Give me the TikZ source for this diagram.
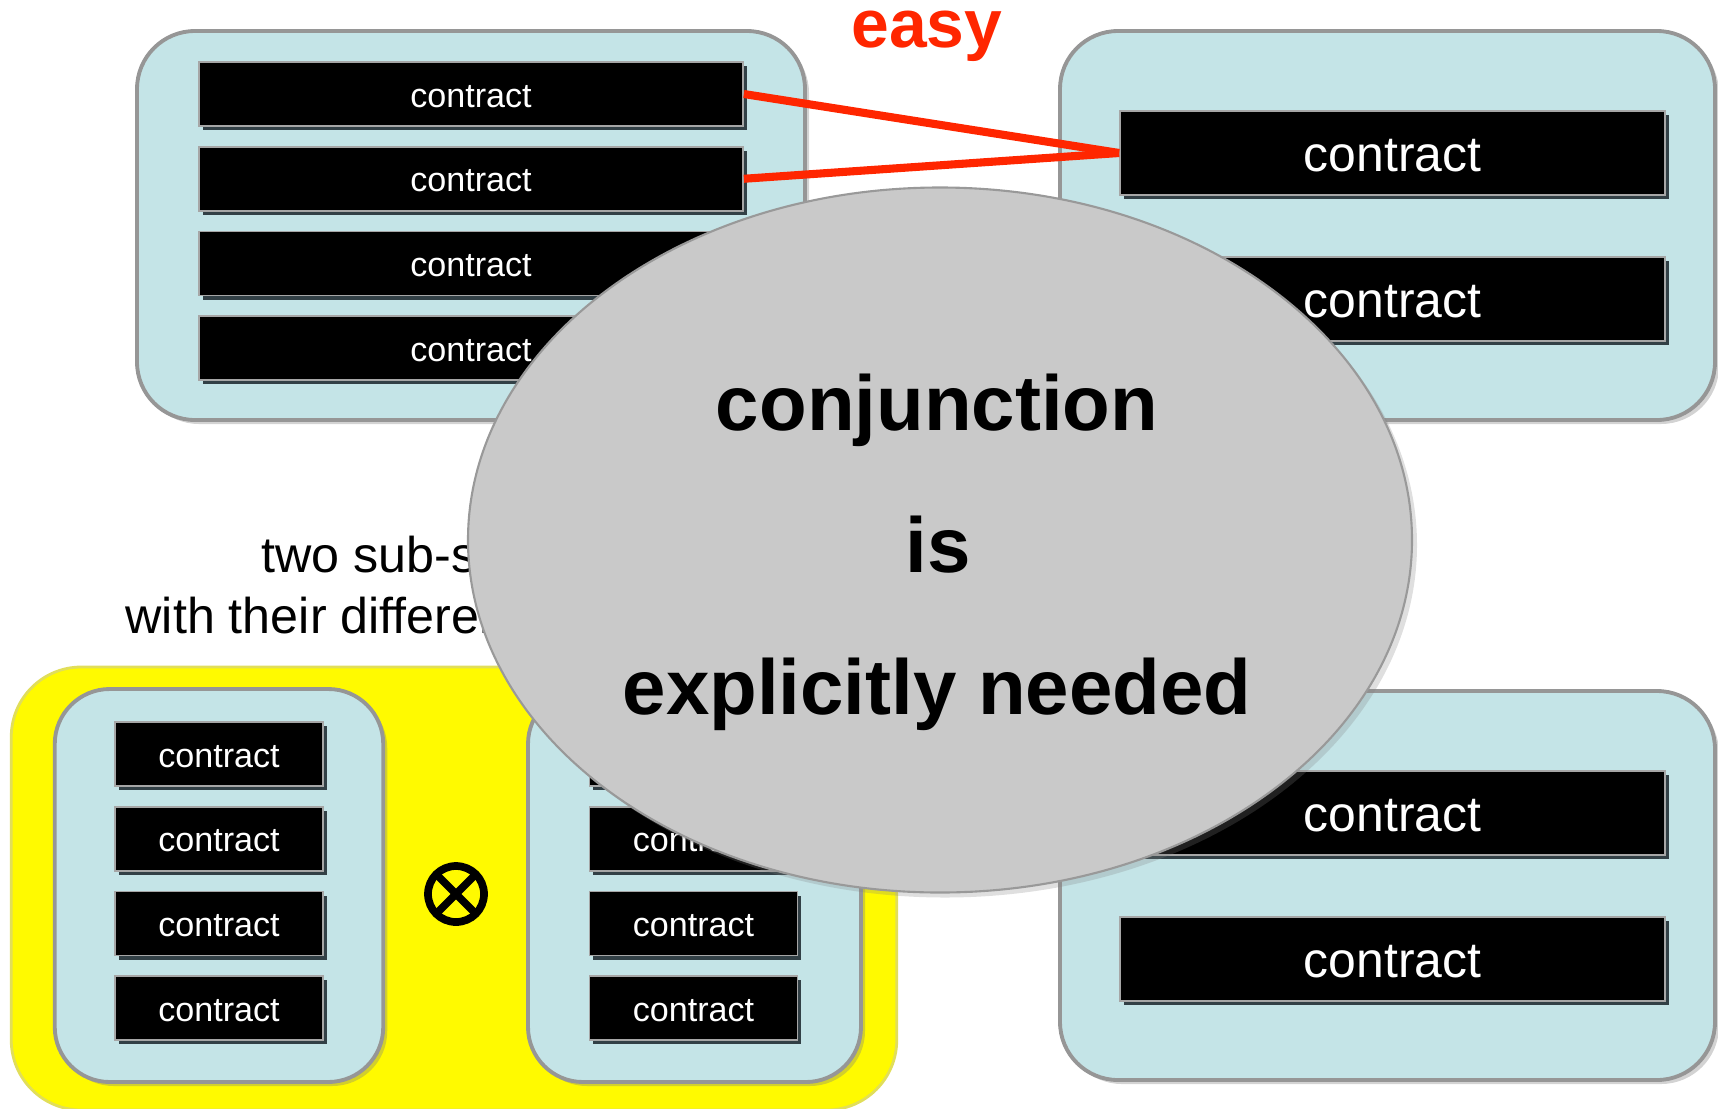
\documentclass[tikz,border=0pt]{standalone}
\usepackage{fontspec}
\setmainfont{Liberation Sans}
\usepackage{tikz}
\usetikzlibrary{positioning}
\usetikzlibrary{shapes.geometric,shadows}
\usepackage{xcolor}
\definecolor{panelblue}{RGB}{196,228,231}
\definecolor{paneledge}{RGB}{150,150,150}
\definecolor{boxshade}{RGB}{50,64,70}
\definecolor{easyred}{RGB}{255,38,0}
\definecolor{bubblegray}{RGB}{201,201,201}
\definecolor{sunyellow}{RGB}{255,250,0}

\begin{document}
\begin{tikzpicture}[
		panel/.style={draw=paneledge, line width=1.1pt, fill=panelblue, rounded corners=0.58cm,
			drop shadow={shadow xshift=0.4mm, shadow yshift=-0.4mm, opacity=0.35}},
		contract/.style={fill=black, draw=gray!70, line width=0.5pt, text=white, inner sep=0pt, text depth=0pt,
			drop shadow={shadow xshift=0.35mm, shadow yshift=-0.4mm, fill=boxshade, opacity=1}},
		smallbox/.style={contract, minimum width=2.08cm, minimum height=0.64cm, text height=7.4pt,
			font=\fontsize{9.7}{11}\selectfont},
		widebox/.style={contract, minimum width=5.44cm, minimum height=0.64cm, text height=7.4pt,
			font=\fontsize{9.7}{11}\selectfont},
		bigbox/.style={contract, minimum width=5.45cm, minimum height=0.84cm, text height=10.8pt,
			font=\fontsize{14.2}{16}\selectfont},
		bubbletext/.style={anchor=base, font=\fontsize{22.2}{26}\selectfont\bfseries},
		caption/.style={anchor=base west, inner sep=0pt, font=\fontsize{14.3}{17}\selectfont},
		redline/.style={easyred, line width=2.3pt}
	]
	\useasboundingbox (0,0) rectangle (17.18,-11.08);
	
	% Top left: one system with four contracts
	\node[panel, minimum width=6.68cm, minimum height=3.89cm] (tlpanel) at (4.71,-2.255) {};
	\node[widebox] (t1) at (4.71,-0.94) {contract};
	\node[widebox, below=0.19cm of t1] (t2) {contract};
	\node[widebox, below=0.19cm of t2] (t3) {contract};
	\node[widebox, below=0.19cm of t3] (t4) {contract};
	
	% Top right: the conjoined contracts
	\node[panel, minimum width=6.55cm, minimum height=3.89cm] (trpanel) at (13.875,-2.255) {};
	\node[bigbox] (r1) at (13.925,-1.53) {contract};
	\node[bigbox, below=0.6cm of r1] (r2) {contract};
	
	% Merging two contracts is easy
	\draw[redline] (t1.east) -- (r1.west);
	\draw[redline] (t2.east) -- (r1.west);
	\node[anchor=base, inner sep=0pt, text=easyred, font=\fontsize{19.3}{22}\selectfont\bfseries] (easy) at (9.27,-0.47) {easy};
	
	% Bottom right
	\node[panel, minimum width=6.55cm, minimum height=3.89cm] (brpanel) at (13.875,-8.855) {};
	\node[bigbox] (b1) at (13.925,-8.13) {contract};
	\node[bigbox, below=0.6cm of b1] (b2) {contract};
	
	% Caption of the product
	\node[caption] (sub1) at (2.61,-5.72) {two sub-systems};
	\node[caption] (sub2) at (1.25,-6.33) {with their different contracts};
	
	% Bottom left: product of two sub-systems
	\node[draw={rgb,255:red,225;green,222;blue,90}, line width=0.8pt, fill=sunyellow, rounded corners=0.7cm,
	minimum width=8.855cm, minimum height=4.43cm] (product) at (4.54,-8.885) {};
	
	\node[panel, rounded corners=0.55cm, minimum width=3.285cm, minimum height=3.93cm] (lpanel) at (2.19,-8.855) {};
	\node[smallbox] (l1) at (2.19,-7.54) {contract};
	\node[smallbox, below=0.19cm of l1] (l2) {contract};
	\node[smallbox, below=0.19cm of l2] (l3) {contract};
	\node[smallbox, below=0.19cm of l3] (l4) {contract};
	
	\node[panel, rounded corners=0.55cm, minimum width=3.33cm, minimum height=3.93cm] (rpanel) at (6.945,-8.855) {};
	\node[smallbox] (m1) at (6.935,-7.54) {contract};
	\node[smallbox, below=0.19cm of m1] (m2) {contract};
	\node[smallbox, below=0.19cm of m2] (m3) {contract};
	\node[smallbox, below=0.19cm of m3] (m4) {contract};
	
	% Tensor sign
	\node[draw, circle, line width=2.2pt, minimum size=0.56cm, inner sep=0pt] (times) at (4.56,-8.94) {};
	\draw[line width=2.2pt, shorten >=1.6pt, shorten <=1.6pt] (times.north west) -- (times.south east);
	\draw[line width=2.2pt, shorten >=1.6pt, shorten <=1.6pt] (times.north east) -- (times.south west);
	
	% The message on top of everything
	\node[ellipse, fill=bubblegray, draw=gray!80, line width=0.6pt, minimum width=9.44cm, minimum height=7.05cm,
	drop shadow={shadow xshift=0.5mm, shadow yshift=-0.5mm, opacity=0.25}] (bubble) at (9.40,-5.40) {};
	\node[bubbletext] (w1) at (9.37,-4.30) {conjunction};
	\node[bubbletext] (w2) at (9.38,-5.72) {is};
	\node[bubbletext] (w3) at (9.37,-7.14) {explicitly needed};
	
\end{tikzpicture}
\end{document}
